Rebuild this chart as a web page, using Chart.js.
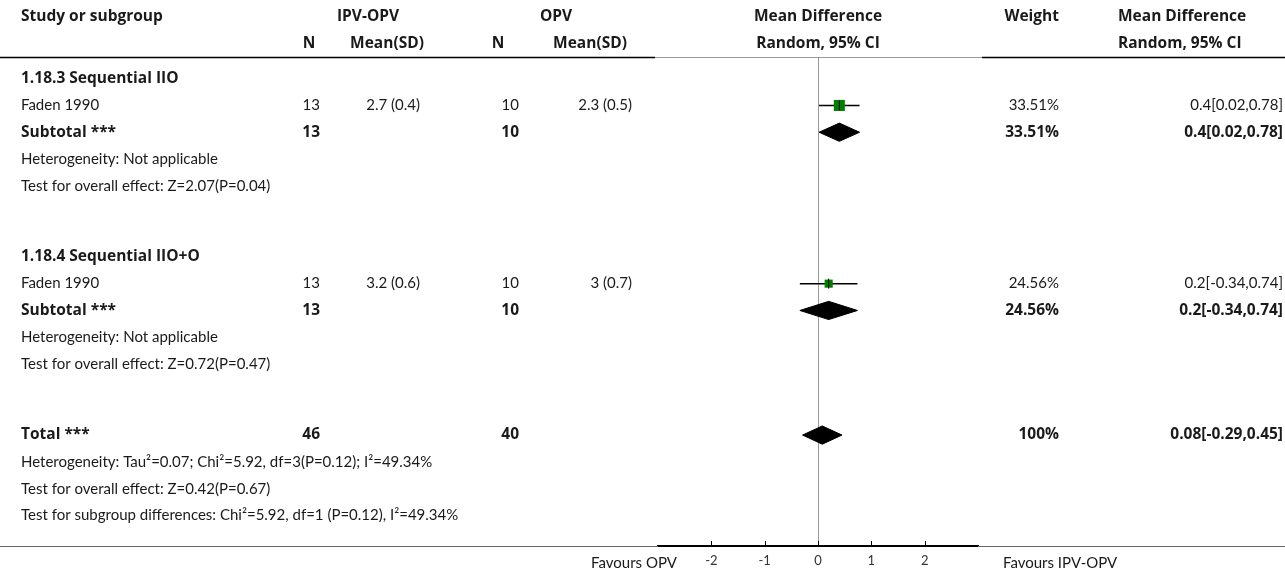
<!DOCTYPE html>
<html>
<head>
<meta charset="utf-8">
<script src="https://cdn.jsdelivr.net/npm/chart.js@4"></script>
<style>
  body { margin: 0; background: #fff; }
  #wrap { width: 1285px; height: 575px; position: relative; }
</style>
</head>
<body>
<div id="wrap"><canvas id="forest"></canvas></div>
<script>
// data
const groupTitles = ['1.18.3 Sequential IIO', '1.18.4 Sequential IIO+O'];
const studyNames = ['Faden 1990', 'Faden 1990'];
const ipvN = [13, 13];
const ipvMeanSD = ['2.7 (0.4)', '3.2 (0.6)'];
const opvN = [10, 10];
const opvMeanSD = ['2.3 (0.5)', '3 (0.7)'];
const studyMD = [0.4, 0.2];
const studyLow = [0.02, -0.34];
const studyHigh = [0.78, 0.74];
const studyWeight = [33.51, 24.56];
const subgroupHet = ['Heterogeneity: Not applicable', 'Heterogeneity: Not applicable'];
const subgroupEffect = ['Test for overall effect: Z=2.07(P=0.04)', 'Test for overall effect: Z=0.72(P=0.47)'];
const totalN = [46, 40];
const totalMD = 0.08;
const totalLow = -0.29;
const totalHigh = 0.45;
const totalWeight = 100;
const totalNotes = [
  'Heterogeneity: Tau\u00b2=0.07; Chi\u00b2=5.92, df=3(P=0.12); I\u00b2=49.34%',
  'Test for overall effect: Z=0.42(P=0.67)',
  'Test for subgroup differences: Chi\u00b2=5.92, df=1 (P=0.12), I\u00b2=49.34%'
];
const xTicks = [-2, -1, 0, 1, 2];
const favoursLeft = 'Favours OPV';
const favoursRight = 'Favours IPV-OPV';

// layout
const FONT = 'Lato, "Noto Sans", sans-serif';
const BOLD_FONT = 'bold 15.5px "Open Sans", Lato, sans-serif';
const FONT_PX = 15;
const TXT = '#1a1a1a';
const GROUP_STEP = 6.65;     // rows between group starts
const ROW_PX = 26.8;
const TOP = 58, BOTTOM = 546;
const DIAMOND_H = 0.34;      // half height in rows
const SQUARE_SCALE = 0.33;   // px of side per % weight

// row positions (rows counted from the first subgroup title)
const groupStart = groupTitles.map((t, i) => i * GROUP_STEP);
const studyRow = groupStart.map(r => r + 1);
const subtotalRow = groupStart.map(r => r + 2);
const totalRow = groupTitles.length * GROUP_STEP;

const yMin = -0.77;
const yMax = yMin + (BOTTOM - TOP) / ROW_PX;

function mdText(md, lo, hi) { return md + '[' + lo + ',' + hi + ']'; }

function diamond(md, lo, hi, row) {
  return [
    { x: lo, y: row }, { x: md, y: row - DIAMOND_H },
    { x: hi, y: row }, { x: md, y: row + DIAMOND_H }, { x: lo, y: row }
  ];
}

const datasets = [];
// point estimate ticks
datasets.push({
  type: 'scatter', order: 0,
  data: studyMD.map((m, i) => ({ x: m, y: studyRow[i] })),
  pointStyle: 'line', rotation: 90, pointRadius: 5, borderColor: '#000', borderWidth: 1
});
// weighted squares
datasets.push({
  type: 'scatter', order: 1,
  data: studyMD.map((m, i) => ({ x: m, y: studyRow[i] })),
  pointStyle: 'rect',
  pointRadius: studyWeight.map(w => w * SQUARE_SCALE / Math.SQRT2),
  backgroundColor: '#008000', borderWidth: 0
});
// confidence intervals
studyMD.forEach((m, i) => {
  datasets.push({
    type: 'line', order: 2,
    data: [{ x: studyLow[i], y: studyRow[i] }, { x: studyHigh[i], y: studyRow[i] }],
    borderColor: '#000', borderWidth: 1.5, pointRadius: 0
  });
});
// subtotal and total diamonds
const diamonds = studyMD.map((m, i) => diamond(m, studyLow[i], studyHigh[i], subtotalRow[i]));
diamonds.push(diamond(totalMD, totalLow, totalHigh, totalRow));
diamonds.forEach(d => {
  datasets.push({
    type: 'line', order: 3, data: d,
    borderColor: '#000', borderWidth: 1, backgroundColor: '#000',
    fill: 'shape', pointRadius: 0, tension: 0
  });
});

const tablePlugin = {
  id: 'tableText',
  afterDraw(chart) {
    const ctx = chart.ctx;
    const xs = chart.scales.x, ys = chart.scales.y;
    const yAt = r => ys.getPixelForValue(r);
    const axisY = chart.chartArea.bottom;

    function txt(s, x, y, align, bold) {
      ctx.font = bold ? BOLD_FONT : FONT_PX + 'px ' + FONT;
      ctx.fillStyle = TXT;
      ctx.textAlign = align;
      ctx.textBaseline = 'middle';
      ctx.fillText(String(s), x, y);
    }

    ctx.save();
    // header
    txt('Study or subgroup', 21, 17, 'left', true);
    txt('IPV-OPV', 368, 17, 'center', true);
    txt('OPV', 556, 17, 'center', true);
    txt('Mean Difference', xs.getPixelForValue(0), 17, 'center', true);
    txt('Weight', 1059, 17, 'right', true);
    txt('Mean Difference', 1118, 17, 'left', true);
    txt('N', 309, 44, 'center', true);
    txt('Mean(SD)', 387, 44, 'center', true);
    txt('N', 498, 44, 'center', true);
    txt('Mean(SD)', 590, 44, 'center', true);
    txt('Random, 95% CI', xs.getPixelForValue(0), 44, 'center', true);
    txt('Random, 95% CI', 1118, 44, 'left', true);

    // header rule
    ctx.lineWidth = 1.5;
    ctx.strokeStyle = '#000';
    ctx.beginPath();
    ctx.moveTo(0, 57.5); ctx.lineTo(655, 57.5);
    ctx.moveTo(982, 57.5); ctx.lineTo(1285, 57.5);
    ctx.stroke();
    ctx.lineWidth = 1;
    ctx.strokeStyle = '#999';
    ctx.beginPath();
    ctx.moveTo(655, 57.5); ctx.lineTo(982, 57.5);
    ctx.stroke();

    // groups
    groupTitles.forEach((g, i) => {
      txt(g, 21, yAt(groupStart[i]), 'left', true);
      const ry = yAt(studyRow[i]);
      txt(studyNames[i], 21, ry, 'left', false);
      txt(ipvN[i], 320, ry, 'right', false);
      txt(ipvMeanSD[i], 420, ry, 'right', false);
      txt(opvN[i], 519, ry, 'right', false);
      txt(opvMeanSD[i], 632, ry, 'right', false);
      txt(studyWeight[i] + '%', 1059, ry, 'right', false);
      txt(mdText(studyMD[i], studyLow[i], studyHigh[i]), 1283, ry, 'right', false);
      const sy = yAt(subtotalRow[i]);
      txt('Subtotal ***', 21, sy, 'left', true);
      txt(ipvN[i], 320, sy, 'right', true);
      txt(opvN[i], 519, sy, 'right', true);
      txt(studyWeight[i] + '%', 1059, sy, 'right', true);
      txt(mdText(studyMD[i], studyLow[i], studyHigh[i]), 1283, sy, 'right', true);
      txt(subgroupHet[i], 21, yAt(subtotalRow[i] + 1), 'left', false);
      txt(subgroupEffect[i], 21, yAt(subtotalRow[i] + 2), 'left', false);
    });

    // total
    const ty = yAt(totalRow);
    txt('Total ***', 21, ty, 'left', true);
    txt(totalN[0], 320, ty, 'right', true);
    txt(totalN[1], 519, ty, 'right', true);
    txt(totalWeight + '%', 1059, ty, 'right', true);
    txt(mdText(totalMD, totalLow, totalHigh), 1283, ty, 'right', true);
    totalNotes.forEach((n, i) => txt(n, 21, yAt(totalRow + 1 + i), 'left', false));

    // bottom rule
    ctx.lineWidth = 1;
    ctx.strokeStyle = '#666';
    ctx.beginPath();
    ctx.moveTo(0, axisY + 0.5); ctx.lineTo(xs.left, axisY + 0.5);
    ctx.moveTo(xs.right, axisY + 0.5); ctx.lineTo(1285, axisY + 0.5);
    ctx.stroke();

    // tick marks pointing up
    ctx.strokeStyle = '#000';
    ctx.beginPath();
    xTicks.forEach(v => {
      const px = Math.round(xs.getPixelForValue(v)) + 0.5;
      ctx.moveTo(px, axisY - 5); ctx.lineTo(px, axisY);
    });
    ctx.stroke();

    txt(favoursLeft, 677, 563, 'right', false);
    txt(favoursRight, 1003, 563, 'left', false);
    ctx.restore();
  }
};

new Chart(document.getElementById('forest'), {
  type: 'line',
  data: { datasets: datasets },
  options: {
    responsive: true,
    maintainAspectRatio: false,
    devicePixelRatio: 1,
    animation: false,
    events: [],
    layout: { padding: { left: 658, right: 1285 - 978, top: TOP, bottom: 0 } },
    plugins: { legend: { display: false }, tooltip: { enabled: false } },
    scales: {
      x: {
        type: 'linear', min: -3, max: 3,
        afterBuildTicks: s => { s.ticks = xTicks.map(v => ({ value: v })); },
        afterFit: s => { s.height = 575 - BOTTOM; },
        border: { display: true, color: '#000', width: 2 },
        grid: {
          drawTicks: false,
          color: c => (c.tick && c.tick.value === 0) ? '#999' : 'rgba(0,0,0,0)'
        },
        ticks: { padding: 7, color: '#333', font: { family: FONT, size: 13 } }
      },
      y: {
        type: 'linear', display: false, reverse: true, min: yMin, max: yMax
      }
    }
  },
  plugins: [tablePlugin]
});
</script>
</body>
</html>
